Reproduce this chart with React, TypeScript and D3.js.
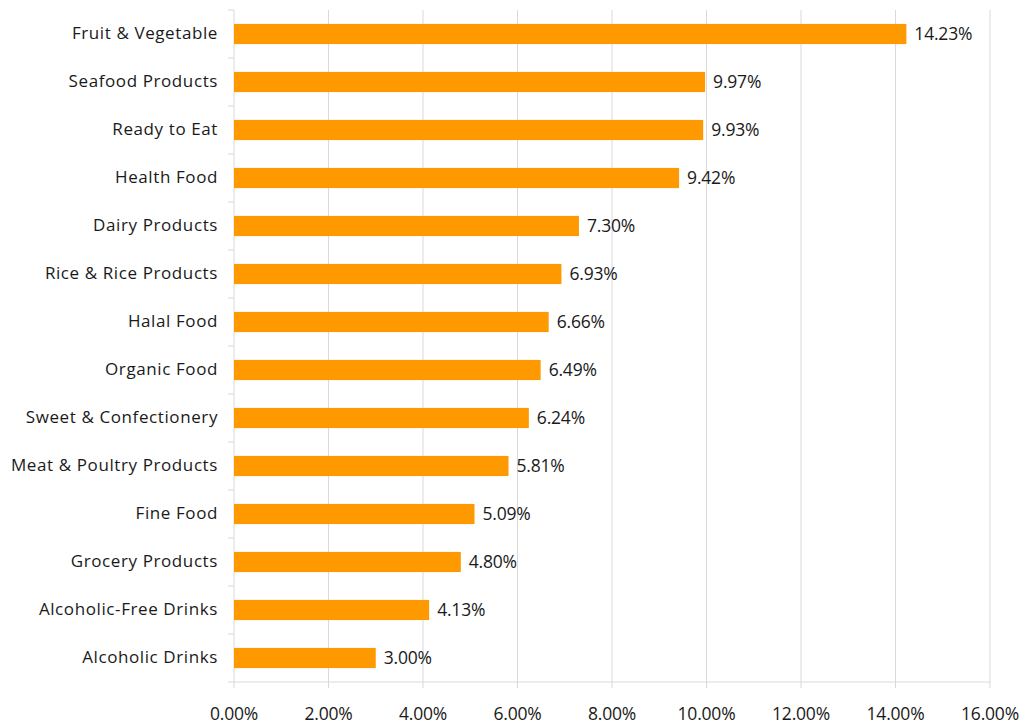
import React from "react";
import * as d3 from "d3";

const categories = [
  "Fruit & Vegetable",
  "Seafood Products",
  "Ready to Eat",
  "Health Food",
  "Dairy Products",
  "Rice & Rice Products",
  "Halal Food",
  "Organic Food",
  "Sweet & Confectionery",
  "Meat & Poultry Products",
  "Fine Food",
  "Grocery Products",
  "Alcoholic-Free Drinks",
  "Alcoholic Drinks",
];
const values = [14.23, 9.97, 9.93, 9.42, 7.3, 6.93, 6.66, 6.49, 6.24, 5.81, 5.09, 4.8, 4.13, 3.0];
const xTicks = [0, 2, 4, 6, 8, 10, 12, 14, 16];

const W = 1027;
const H = 728;
const left = 234;
const right = 990;
const top = 10;
const bottom = 682;
const font = "'Open Sans', sans-serif";

export default function App() {
  const x = d3.scaleLinear().domain([0, 16]).range([left, right]);
  const y = d3.scaleBand().domain(categories).range([top, bottom]).paddingInner(0.58).paddingOuter(0.29);
  const step = (bottom - top) / categories.length;
  const bounds = d3.range(categories.length + 1).map((i) => top + i * step);
  const fmt = (v: number) => v.toFixed(2) + "%";
  return (
    <svg width={W} height={H} style={{ position: "absolute", left: 0, top: 0 }}>
      <rect width={W} height={H} fill="#fff" />
      {xTicks.slice(1).map((t) => (
        <line key={"g" + t} x1={x(t)} x2={x(t)} y1={top} y2={bottom} stroke="#d9d9d9" strokeWidth={1} />
      ))}
      {xTicks.map((t) => (
        <line key={"t" + t} x1={x(t)} x2={x(t)} y1={bottom} y2={bottom + 6} stroke="#d9d9d9" strokeWidth={1} />
      ))}
      {bounds.map((b, i) => (
        <line key={"yt" + i} x1={left - 6} x2={left} y1={b} y2={b} stroke="#d9d9d9" strokeWidth={1} />
      ))}
      <line x1={left} x2={left} y1={top} y2={bottom} stroke="#d9d9d9" strokeWidth={1} />
      <line x1={left} x2={right} y1={bottom} y2={bottom} stroke="#d9d9d9" strokeWidth={1} />
      {categories.map((c, i) => {
        const yy = y(c)!;
        const bh = y.bandwidth();
        return (
          <g key={c}>
            <rect x={x(0)} y={yy} width={x(values[i]) - x(0)} height={bh} fill="#ff9900" />
            <text x={left - 16} y={yy + bh / 2 - 1} dy="0.35em" textAnchor="end" fontFamily={font} fontSize={17} fill="#1a1a1a" letterSpacing={0.6}>
              {c}
            </text>
            <text x={x(values[i]) + 8} y={yy + bh / 2} dy="0.35em" fontFamily={font} fontSize={17.5} fill="#1a1a1a" letterSpacing={-0.2}>
              {fmt(values[i])}
            </text>
          </g>
        );
      })}
      {xTicks.map((t) => (
        <text key={"l" + t} x={x(t)} y={714} dy="0.35em" textAnchor="middle" fontFamily={font} fontSize={17.5} fill="#1a1a1a" letterSpacing={-0.2}>
          {fmt(t)}
        </text>
      ))}
    </svg>
  );
}
